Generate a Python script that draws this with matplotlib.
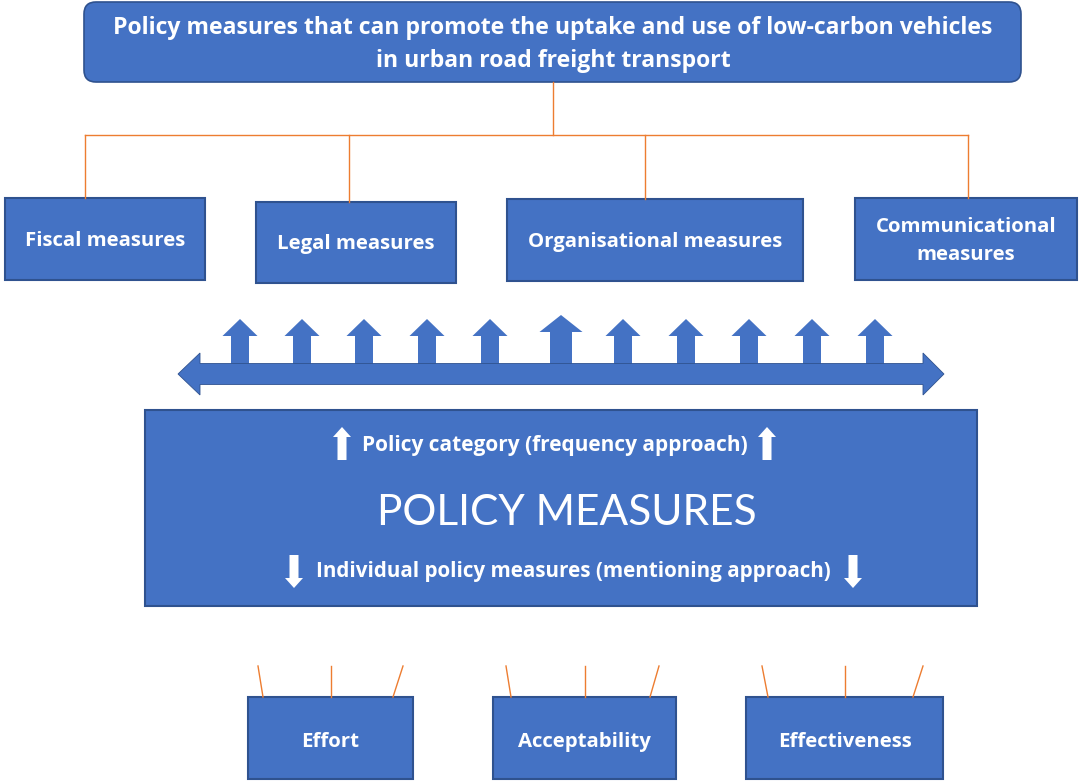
import matplotlib.pyplot as plt
from matplotlib.patches import FancyBboxPatch, Rectangle, Polygon

# texts of the diagram
title_lines = ["Policy measures that can promote the uptake and use of low-carbon vehicles",
               "in urban road freight transport"]
categories = ["Fiscal measures", "Legal measures", "Organisational measures",
              "Communicational\nmeasures"]
centre_title = "POLICY MEASURES"
upper_note = "Policy category (frequency approach)"
lower_note = "Individual policy measures (mentioning approach)"
criteria = ["Effort", "Acceptability", "Effectiveness"]

# layout (pixels)
cat_boxes = [(5, 198, 200, 82), (256, 202, 200, 81), (507, 199, 296, 82), (855, 198, 222, 82)]
cat_drops = [85, 349, 645, 968]
up_arrow_x = [240, 302, 364, 427, 490, 561, 623, 686, 749, 812, 875]
crit_boxes = [(248, 697, 165, 82), (493, 697, 183, 82), (746, 697, 197, 82)]
# small connectors above criteria boxes: (x top, x bottom)
crit_lines = [[(258, 263), (331, 331), (403, 393)],
              [(506, 511), (585, 585), (659, 650)],
              [(762, 768), (845, 845), (923, 913)]]

BLUE = "#4472C4"
EDGE = "#2F528F"
ORANGE = "#ED7D31"
FONT = "Open Sans"
FS = 14.7

fig = plt.figure(figsize=(10.81, 7.81), dpi=100)
ax = fig.add_axes([0, 0, 1, 1])
ax.set_xlim(0, 1081)
ax.set_ylim(781, 0)
ax.axis("off")

# top box
ax.add_patch(FancyBboxPatch((84, 2), 937, 80, boxstyle="round,pad=0,rounding_size=12",
                            fc=BLUE, ec=EDGE, lw=1.2))
ax.text(553, 28, title_lines[0], ha="center", va="center", color="white",
        fontsize=16.6, fontweight="bold", family=FONT)
ax.text(553, 61, title_lines[1], ha="center", va="center", color="white",
        fontsize=16.6, fontweight="bold", family=FONT)

# orange connectors
ax.plot([553, 553], [82, 135], color=ORANGE, lw=1)
ax.plot([min(cat_drops), max(cat_drops)], [135, 135], color=ORANGE, lw=1)
for x, (bx, by, bw, bh) in zip(cat_drops, cat_boxes):
    ax.plot([x, x], [135, by], color=ORANGE, lw=1)

# category boxes
for lab, (bx, by, bw, bh) in zip(categories, cat_boxes):
    ax.add_patch(Rectangle((bx, by), bw, bh, fc=BLUE, ec=EDGE, lw=1.5))
    ax.text(bx + bw / 2, by + bh / 2 + 2, lab, ha="center", va="center", color="white",
            fontsize=FS, fontweight="bold", family=FONT, linespacing=1.6)

# up arrows on the bar
for i, x in enumerate(up_arrow_x):
    big = i == 5
    sw = 22 if big else 18
    hw = 43 if big else 35
    top = 315 if big else 319
    pts = [(x - sw / 2, 370), (x - sw / 2, top + 17), (x - hw / 2, top + 17), (x, top),
           (x + hw / 2, top + 17), (x + sw / 2, top + 17), (x + sw / 2, 370)]
    ax.add_patch(Polygon(pts, closed=True, fc=BLUE, ec="none"))

# double horizontal arrow
bar = [(178, 374), (200, 353), (200, 363.5), (923, 363.5), (923, 353), (944, 374),
       (923, 395), (923, 384.5), (200, 384.5), (200, 395)]
ax.add_patch(Polygon(bar, closed=True, fc=BLUE, ec=EDGE, lw=0.6))


def white_arrow(x, y_tail, y_tip):
    d = 1 if y_tip > y_tail else -1
    base = y_tip - d * 10
    pts = [(x - 4.5, y_tail), (x - 4.5, base), (x - 9, base), (x, y_tip),
           (x + 9, base), (x + 4.5, base), (x + 4.5, y_tail)]
    ax.add_patch(Polygon(pts, closed=True, fc="white", ec="none"))


# central box
ax.add_patch(Rectangle((145, 410), 832, 196, fc=BLUE, ec=EDGE, lw=1.5))
ax.text(555, 446, upper_note, ha="center", va="center", color="white",
        fontsize=15, fontweight="bold", family=FONT)
ax.text(567, 513, centre_title, ha="center", va="center", color="white",
        fontsize=30.5, family="Lato")
ax.text(573, 571, lower_note, ha="center", va="center", color="white",
        fontsize=14.9, fontweight="bold", family=FONT)
white_arrow(342, 460, 427)
white_arrow(767, 460, 427)
white_arrow(294, 555, 588)
white_arrow(853, 555, 588)

# criteria boxes with small connectors
for lab, (bx, by, bw, bh), lines in zip(criteria, crit_boxes, crit_lines):
    for xt, xb in lines:
        ax.plot([xt, xb], [666, by], color=ORANGE, lw=1)
    ax.add_patch(Rectangle((bx, by), bw, bh, fc=BLUE, ec=EDGE, lw=1.5))
    ax.text(bx + bw / 2, by + bh / 2 + 4, lab, ha="center", va="center", color="white",
            fontsize=FS, fontweight="bold", family=FONT)

fig.savefig("out.png", dpi=100)
